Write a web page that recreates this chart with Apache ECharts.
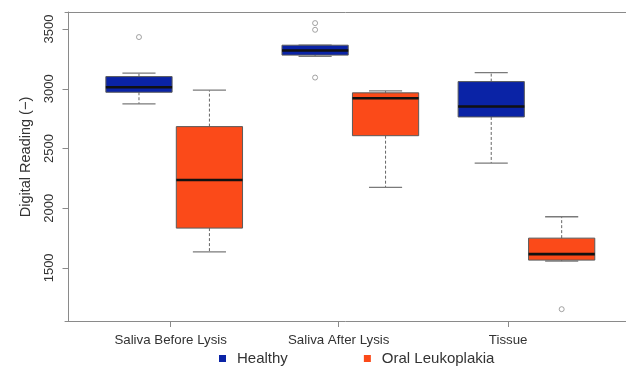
<!DOCTYPE html>
<html>
<head>
<meta charset="utf-8">
<script src="https://cdn.jsdelivr.net/npm/echarts@6/dist/echarts.min.js"></script>
<style>
  html, body { margin: 0; padding: 0; background: #ffffff; }
  #chart { width: 626px; height: 370px; }
</style>
</head>
<body>
<div id="chart"></div>
<script>
// Group labels and where their ticks sit on the x scale
const categories = ['Saliva Before Lysis', 'Saliva After Lysis', 'Tissue'];
const categoryTickPos = [1.45, 3.835, 6.24];

// Box centres on the x scale for each group
const healthyPos = [1, 3.5, 6];
const leukoplakiaPos = [2, 4.5, 7];

// Five-number summaries: [lower whisker, Q1, median, Q3, upper whisker]
const healthyStats = [
  [2873, 2971, 3013, 3102, 3131],
  [3272, 3282, 3320, 3365, 3365],
  [2378, 2764, 2851, 3060, 3136]
];
const leukoplakiaStats = [
  [1634, 1833, 2236, 2683, 2988],
  [2174, 2607, 2921, 2966, 2982],
  [1556, 1565, 1615, 1749, 1928]
];

// Outliers: [group index, value]
const healthyOutliers = [[0, 3433], [1, 3550], [1, 3494], [1, 3094]];
const leukoplakiaOutliers = [[2, 1154]];

// Y axis ticks
const yTicks = [1500, 2000, 2500, 3000, 3500];

const COLOR_HEALTHY = '#0a23a6';
const COLOR_LEUKO = '#fb4a19';
const FONT = '"Liberation Sans", Arial, sans-serif';
const BOX_WEX = 0.94;

function boxData(pos, stats) {
  return stats.map((s, i) => [pos[i]].concat(s));
}
function outlierData(pos, outs) {
  return outs.map(o => [pos[o[0]], o[1]]);
}

function renderBox(params, api) {
  const x = api.value(0);
  const lo = api.coord([x, api.value(1)]);
  const q1 = api.coord([x, api.value(2)]);
  const md = api.coord([x, api.value(3)]);
  const q3 = api.coord([x, api.value(4)]);
  const hi = api.coord([x, api.value(5)]);
  const half = api.size([BOX_WEX, 0])[0] / 2;
  const cap = half / 2;
  const cx = md[0];
  const fill = api.visual('color');
  const whisker = { stroke: '#666666', lineWidth: 1, lineDash: [3, 2] };
  const capStyle = { stroke: '#7a7a7a', lineWidth: 1.3 };
  return {
    type: 'group',
    children: [
      { type: 'line', shape: { x1: cx, y1: q3[1], x2: cx, y2: hi[1] }, style: whisker },
      { type: 'line', shape: { x1: cx, y1: q1[1], x2: cx, y2: lo[1] }, style: whisker },
      { type: 'line', shape: { x1: cx - cap, y1: hi[1], x2: cx + cap, y2: hi[1] }, style: capStyle },
      { type: 'line', shape: { x1: cx - cap, y1: lo[1], x2: cx + cap, y2: lo[1] }, style: capStyle },
      { type: 'rect', shape: { x: cx - half, y: q3[1], width: half * 2, height: q1[1] - q3[1] },
        style: { fill: fill, stroke: '#5a5a5a', lineWidth: 1 } },
      { type: 'line', shape: { x1: cx - half, y1: md[1], x2: cx + half, y2: md[1] },
        style: { stroke: '#111111', lineWidth: 2.6 } }
    ]
  };
}

const X_MIN = -0.05;
const X_MAX = 7.913;

const outlierStyle = { color: '#ffffff', borderColor: '#8c8c8c', borderWidth: 1 };

const chart = echarts.init(document.getElementById('chart'), null, { renderer: 'canvas' });
chart.setOption({
  animation: false,
  backgroundColor: '#ffffff',
  textStyle: { fontFamily: FONT },
  grid: { left: 65, right: 0, top: 12, bottom: 49, containLabel: false },
  legend: {
    left: 214, top: 346,
    itemWidth: 7, itemHeight: 7, itemGap: 76,
    icon: 'rect',
    textStyle: { fontFamily: FONT, fontSize: 15, color: '#333333', padding: [0, 0, 0, 6] },
    data: ['Healthy', 'Oral Leukoplakia']
  },
  xAxis: [{
    type: 'value', position: 'bottom',
    min: X_MIN, max: X_MAX,
    axisLine: { show: true, lineStyle: { color: '#8a8a8a', width: 1 } },
    axisTick: { show: true, length: 6, lineStyle: { color: '#8a8a8a' }, customValues: categoryTickPos },
    splitLine: { show: false },
    axisLabel: {
      show: true, margin: 13, fontFamily: FONT, fontSize: 13.3, color: '#333333',
      customValues: categoryTickPos,
      formatter: function (v) {
        let best = 0;
        categoryTickPos.forEach((p, i) => { if (Math.abs(p - v) < Math.abs(categoryTickPos[best] - v)) best = i; });
        return categories[best];
      }
    }
  }, {
    type: 'value', position: 'top',
    min: X_MIN, max: X_MAX,
    axisLine: { show: true, lineStyle: { color: '#8a8a8a', width: 1 } },
    axisTick: { show: false }, axisLabel: { show: false }, splitLine: { show: false }
  }],
  yAxis: {
    type: 'value', min: 1055, max: 3643,
    axisLine: { show: true, lineStyle: { color: '#8a8a8a', width: 1 } },
    axisTick: { show: true, length: 6, lineStyle: { color: '#8a8a8a' }, customValues: yTicks },
    splitLine: { show: false },
    axisLabel: { show: true, rotate: 90, margin: 9, fontFamily: FONT, fontSize: 13, color: '#333333',
      customValues: yTicks, formatter: function (v) { return String(v); } }
  },
  graphic: [{
    type: 'text', x: 26, y: 157, rotation: Math.PI / 2,
    style: { text: 'Digital Reading (−)', fontFamily: FONT, fontSize: 14.5, fill: '#333333',
      align: 'center', verticalAlign: 'middle' }
  }],
  series: [{
    name: 'Healthy', type: 'custom', xAxisIndex: 0,
    itemStyle: { color: COLOR_HEALTHY },
    renderItem: renderBox,
    encode: { x: 0, y: [1, 2, 3, 4, 5] },
    data: boxData(healthyPos, healthyStats), z: 2
  }, {
    name: 'Oral Leukoplakia', type: 'custom', xAxisIndex: 0,
    itemStyle: { color: COLOR_LEUKO },
    renderItem: renderBox,
    encode: { x: 0, y: [1, 2, 3, 4, 5] },
    data: boxData(leukoplakiaPos, leukoplakiaStats), z: 2
  }, {
    name: 'Healthy', type: 'scatter', xAxisIndex: 0,
    symbol: 'circle', symbolSize: 5,
    itemStyle: outlierStyle,
    data: outlierData(healthyPos, healthyOutliers), z: 3
  }, {
    name: 'Oral Leukoplakia', type: 'scatter', xAxisIndex: 0,
    symbol: 'circle', symbolSize: 5,
    itemStyle: outlierStyle,
    data: outlierData(leukoplakiaPos, leukoplakiaOutliers), z: 3
  }]
});
</script>
</body>
</html>
